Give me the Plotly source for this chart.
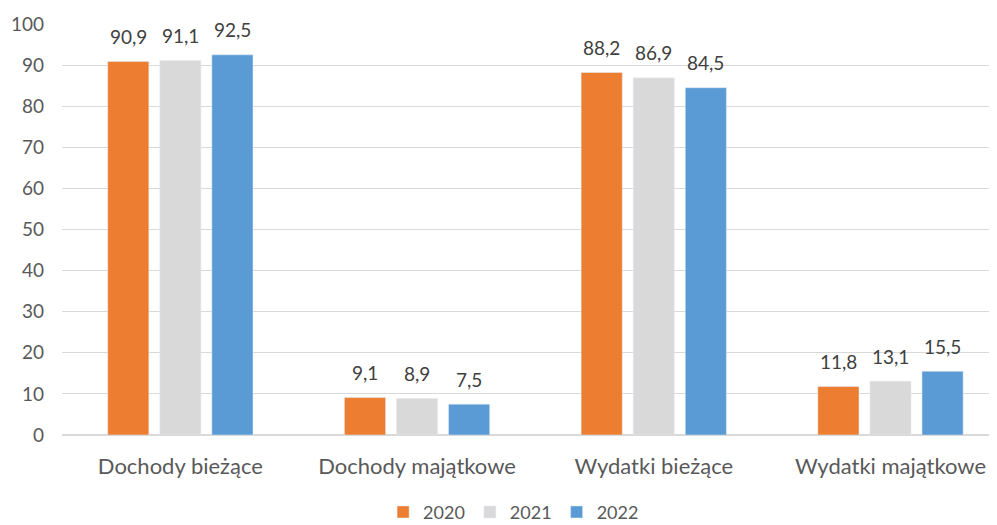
import plotly.graph_objects as go

categories = ["Dochody bieżące", "Dochody majątkowe", "Wydatki bieżące", "Wydatki majątkowe"]
years = ["2020", "2021", "2022"]
v2020 = [90.9, 9.1, 88.2, 11.8]
v2021 = [91.1, 8.9, 86.9, 13.1]
v2022 = [92.5, 7.5, 84.5, 15.5]
colors = ["#ED7D31", "#D9D9D9", "#5B9BD5"]

fmt = lambda v: f"{v:.1f}".replace(".", ",")
FONT = "Lato, Open Sans, sans-serif"

fig = go.Figure()
annotations = []
offsets = [-52, 0, 52]
for name, vals, c, off in zip(years, [v2020, v2021, v2022], colors, offsets):
    fig.add_trace(go.Bar(
        x=categories, y=vals, name=name, marker_color=c,
    ))
    for cat, v in zip(categories, vals):
        annotations.append(dict(
            x=cat, y=v, xref="x", yref="y", text=fmt(v), showarrow=False,
            xshift=off, yshift=25, yanchor="middle",
            font=dict(family=FONT, size=19, color="#404040"),
        ))

fig.update_layout(
    width=989, height=517,
    margin=dict(l=54, r=0, t=16, b=90, autoexpand=False),
    paper_bgcolor="white", plot_bgcolor="white",
    font=dict(family=FONT, color="#595959", size=19),
    barmode="group", bargap=0.34, bargroupgap=0.21,
    showlegend=True,
    annotations=annotations,
    legend=dict(orientation="h", x=0.483, xanchor="center", y=-0.188, yref="paper",
                yanchor="middle", font=dict(family=FONT, size=18, color="#595959"),
                itemwidth=30, traceorder="normal", tracegroupgap=0,
                bgcolor="rgba(0,0,0,0)"),
    xaxis=dict(range=[-0.5, 3.45], showline=False, ticks="", tickfont=dict(size=22),
               automargin=False, ticklabelstandoff=16),
    yaxis=dict(range=[0, 100], dtick=10, showgrid=True, gridcolor="#D9D9D9", gridwidth=1,
               zeroline=True, zerolinecolor="#D9D9D9", ticks="", tickfont=dict(size=19),
               ticklabelstandoff=17, automargin=False),
)
fig.write_html("out.html")
